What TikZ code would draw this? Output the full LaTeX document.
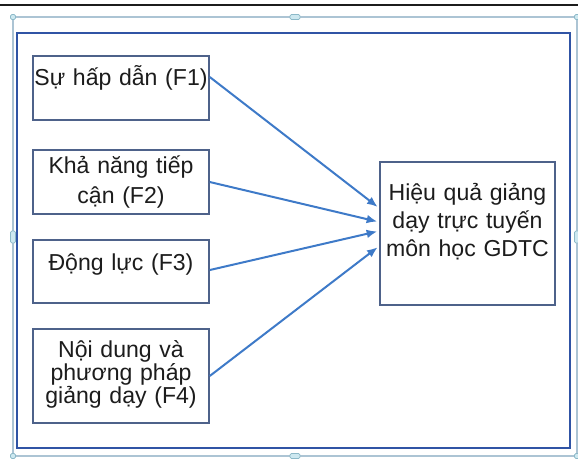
\documentclass[tikz,border=0pt]{standalone}
\usepackage{fontspec}
\setmainfont{Liberation Sans}
\usetikzlibrary{arrows.meta,positioning}

\definecolor{framegray}{RGB}{172,196,212}
\definecolor{frameblue}{RGB}{48,84,165}
\definecolor{boxedge}{RGB}{78,98,138}
\definecolor{arrowblue}{RGB}{62,122,200}
\definecolor{handlefill}{RGB}{205,232,240}
\definecolor{handleedge}{RGB}{140,185,200}
\definecolor{txt}{RGB}{28,28,28}

\newcommand{\boxfont}[1]{\fontsize{17.3pt}{#1}\selectfont}

\tikzset{
  factor/.style={draw=boxedge, line width=1.1pt, fill=white, text=txt,
    align=center, text width=132pt, inner sep=0pt},
  effect/.style={factor, text width=131.25pt},
  link/.style={->, draw=arrowblue, line width=1.5pt, shorten >=1.5pt},
  handle/.style={draw=handleedge, fill=handlefill, line width=0.5pt, rounded corners=1pt}
}

\begin{document}
\begin{tikzpicture}[x=0.75pt, y=-0.75pt, >={Latex[length=8pt,width=6.5pt]}]
\useasboundingbox (0,0) rectangle (578,458);

% frames
\draw[txt, line width=1.1pt] (0,5) -- (578,5);
\draw[framegray, line width=0.9pt] (13,17) rectangle (577,456);
\draw[frameblue, line width=2.2pt] (17,33) rectangle (570,448);
\foreach \hx/\hy in {13/237, 577/237}
  \draw[handle] (\hx-2.5,\hy-6) rectangle (\hx+2.5,\hy+6);
\foreach \hx/\hy in {295/17, 295/456}
  \draw[handle] (\hx-5,\hy-2.5) rectangle (\hx+5,\hy+2.5);
\foreach \hx/\hy in {13/17, 577/17, 13/456, 577/456}
  \draw[handle] (\hx-2.5,\hy-2.5) rectangle (\hx+2.5,\hy+2.5);

% factors
\node[factor, text height=21.75pt, text depth=26.25pt, font=\boxfont{17.5pt}]
  (f1) at (121,88) {Sự hấp dẫn (F1)};
\node[factor, text height=17.25pt, text depth=30.75pt, font=\boxfont{22.5pt}]
  (f2) at (121,182) {Khả năng tiếp\\cận (F2)};
\node[factor, text height=22.5pt, text depth=24.75pt, font=\boxfont{17.5pt}]
  (f3) at (121,271.5) {Động lực (F3)};
\node[factor, text height=21pt, text depth=49.5pt, font=\boxfont{17.5pt}]
  (f4) at (121,376) {Nội dung và\\phương pháp\\giảng dạy (F4)};

% result
\node[effect, text height=28.5pt, text depth=78.75pt, font=\boxfont{21pt}]
  (res) at (467.5,233.5) {Hiệu quả giảng\\dạy trực tuyến\\môn học GDTC};

\path ([yshift=8.25pt]f1.east) edge[link] ([yshift=19pt]res.west);
\path (f2.east) edge[link] ([yshift=8.6pt]res.west);
\path ([yshift=1.1pt]f3.east) edge[link] ([yshift=1.9pt]res.west);
\path (f4.east) edge[link] ([yshift=-9.4pt]res.west);
\end{tikzpicture}
\end{document}
